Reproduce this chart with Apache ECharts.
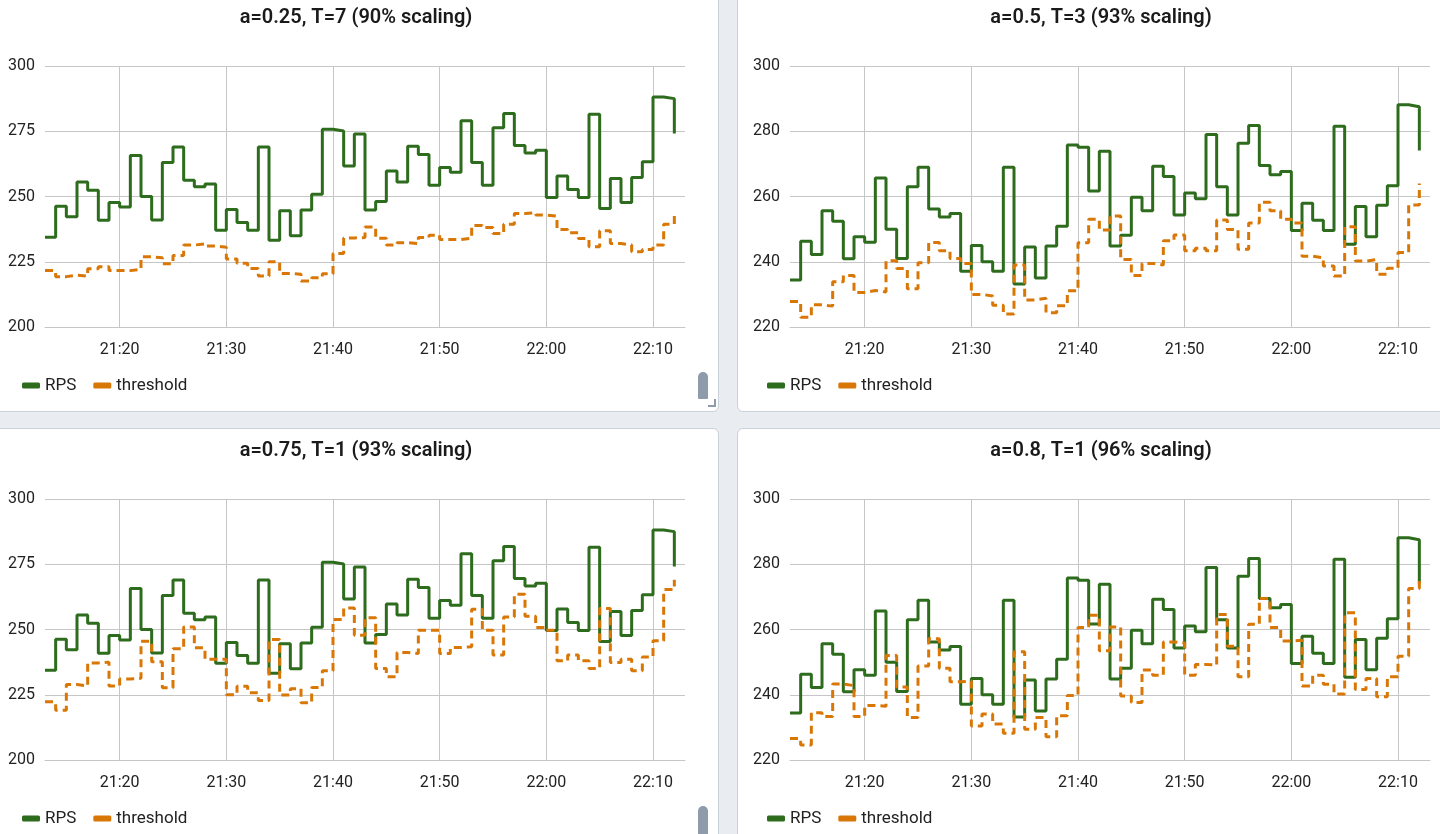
<!DOCTYPE html>
<html>
<head>
<meta charset="utf-8">
<script src="https://cdn.jsdelivr.net/npm/echarts@6/dist/echarts.min.js"></script>
<style>
html,body{margin:0;padding:0;width:1440px;height:834px;overflow:hidden;background:#e9edf2;font-family:Roboto,sans-serif;}
.card{position:absolute;background:#fff;border:1px solid #c9d1db;border-radius:6px;box-sizing:border-box;}
#chart{position:absolute;left:0;top:0;width:1440px;height:834px;}
.thumb{position:absolute;background:#8d9baa;border-radius:5px 5px 1px 1px;width:10px;}
.grip{position:absolute;width:6px;height:6px;border-right:2px solid #8d9baa;border-bottom:2px solid #8d9baa;}
</style>
</head>
<body>
<div class="card" style="left:-10px;top:-10px;width:729px;height:422px"></div>
<div class="card" style="left:737px;top:-10px;width:730px;height:422px"></div>
<div class="card" style="left:-10px;top:428px;width:729px;height:430px"></div>
<div class="card" style="left:737px;top:428px;width:730px;height:430px"></div>
<div class="thumb" style="left:698px;top:372px;height:27px"></div>
<div class="grip" style="left:708px;top:399px"></div>
<div class="thumb" style="left:698px;top:806px;height:30px"></div>
<div id="chart"></div>
<script>
// time categories (one per minute); the last one only closes the axis
const times = [
 '21:13','21:14','21:15','21:16','21:17','21:18','21:19','21:20','21:21','21:22',
 '21:23','21:24','21:25','21:26','21:27','21:28','21:29','21:30','21:31','21:32',
 '21:33','21:34','21:35','21:36','21:37','21:38','21:39','21:40','21:41','21:42',
 '21:43','21:44','21:45','21:46','21:47','21:48','21:49','21:50','21:51','21:52',
 '21:53','21:54','21:55','21:56','21:57','21:58','21:59','22:00','22:01','22:02',
 '22:03','22:04','22:05','22:06','22:07','22:08','22:09','22:10','22:11','22:12',
 '22:13'
];

const rps = [
 234.4,246.3,242.2,255.6,252.4,240.9,247.7,246.0,265.7,250.0,
 241.0,263.0,269.0,256.2,253.7,254.8,237.1,245.0,240.0,237.1,
 269.0,233.2,244.5,235.0,244.8,250.9,275.8,275.1,261.7,273.9,
 244.8,248.1,259.8,255.6,269.3,266.1,254.3,261.1,259.3,279.0,
 263.0,254.3,276.3,281.8,269.5,266.7,267.7,249.6,257.9,252.7,
 249.6,281.5,245.4,256.9,247.7,257.3,263.3,288.1,287.5,274.1
];

const thresholdA025 = [
 221.6,219.3,219.9,219.5,222.3,223.1,221.6,221.6,222.1,226.9,
 226.5,224.2,227.4,231.4,231.8,231.0,230.6,226.1,224.4,222.4,
 219.5,225.0,220.5,220.2,217.6,218.9,220.4,228.2,234.1,234.3,
 238.3,234.0,231.4,232.3,232.0,234.3,235.2,233.5,233.5,234.0,
 238.9,238.1,235.8,239.4,243.5,243.8,242.9,242.5,237.4,236.1,
 233.9,230.7,236.9,232.0,231.4,228.8,229.7,231.4,239.4,243.1
];

const thresholdA05 = [
 227.8,223.0,226.8,226.4,233.9,235.8,230.6,231.2,230.7,240.3,
 237.9,231.7,239.7,245.9,243.4,241.0,239.5,230.0,229.5,226.7,
 224.0,239.0,228.3,228.8,224.4,226.5,231.1,245.8,253.0,249.7,
 254.0,240.7,235.8,239.5,239.0,246.4,248.2,243.4,244.1,243.4,
 252.8,249.9,243.8,251.9,258.2,255.6,253.0,251.9,241.7,241.2,
 238.7,235.6,250.7,240.2,240.7,236.2,238.0,242.8,257.4,264.0
];

const thresholdA075 = [
 222.3,219.1,228.9,228.3,237.2,237.5,228.4,231.0,231.3,245.5,
 237.6,227.7,242.6,251.0,243.0,238.6,238.6,225.0,228.3,225.8,
 222.8,246.2,224.9,227.3,221.9,227.8,234.2,253.8,258.2,247.8,
 254.5,235.1,231.9,241.2,240.8,249.7,249.7,240.8,243.1,243.4,
 257.8,249.7,240.2,254.8,263.5,255.1,250.8,249.7,238.0,240.2,
 238.0,235.1,258.0,237.4,238.6,234.2,239.5,245.7,265.3,269.1
];

const thresholdA08 = [
 226.6,224.6,234.5,233.3,243.3,242.8,233.3,236.7,236.5,252.0,
 242.4,233.0,248.8,257.2,248.1,244.0,244.2,230.4,234.1,231.0,
 228.2,253.2,229.4,233.0,227.1,233.6,239.8,260.6,264.4,253.5,
 260.8,239.6,237.6,247.6,246.0,256.2,255.9,246.0,249.3,249.1,
 264.6,254.9,245.5,261.6,269.5,260.6,256.5,256.7,242.7,246.0,
 243.2,240.2,265.1,241.6,245.0,239.4,245.5,251.8,272.6,275.6
];

const titles = [
 'a=0.25, T=7 (90% scaling)',
 'a=0.5, T=3 (93% scaling)',
 'a=0.75, T=1 (93% scaling)',
 'a=0.8, T=1 (96% scaling)'
];
const thresholds = [thresholdA025, thresholdA05, thresholdA075, thresholdA08];
// y axis [min, max, step]
const yScales = [[200,300,25],[220,300,20],[200,300,25],[220,300,20]];
const seriesNames = ['RPS','threshold'];

const GREEN = '#2d6b1d';
const ORANGE = '#d97706';
const TEXT = '#222222';
const GRIDC = '#c6c6c6';

const layout = [
 {gx:45,  gy:66,  tx:356,  ty:8,   lx:22,  ly:377},
 {gx:790, gy:66,  tx:1101, ty:8,   lx:767, ly:377},
 {gx:45,  gy:499, tx:356,  ty:441, lx:22,  ly:810},
 {gx:790, gy:499, tx:1101, ty:441, lx:767, ly:810}
];

const isTenMark = (idx, val) => typeof val === 'string' && val.slice(-1) === '0';

const option = {
 animation: false,
 backgroundColor: 'transparent',
 textStyle: {fontFamily: 'Roboto, sans-serif'},
 title: layout.map((l, i) => ({
  text: titles[i], left: l.tx, top: l.ty, textAlign: 'center', padding: 0,
  textStyle: {fontSize: 20, fontWeight: 600, color: '#1a1a1a', fontFamily: 'Roboto'}
 })),
 legend: layout.map(l => ({
  data: seriesNames, left: l.lx, top: l.ly, padding: 0,
  icon: 'roundRect', itemWidth: 18, itemHeight: 6, itemGap: 17,
  itemStyle: {borderWidth: 0},
  textStyle: {fontSize: 17, color: TEXT, fontFamily: 'Roboto'}
 })),
 grid: layout.map(l => ({left: l.gx, top: l.gy, width: 640, height: 261})),
 xAxis: layout.map((l, i) => ({
  type: 'category', gridIndex: i, data: times, boundaryGap: false,
  axisLine: {show: true, lineStyle: {color: GRIDC, width: 1}},
  axisTick: {show: false},
  axisLabel: {interval: isTenMark, fontSize: 16, color: TEXT, margin: 15, fontFamily: 'Roboto'},
  splitLine: {show: true, interval: isTenMark, lineStyle: {color: GRIDC, width: 1}}
 })),
 yAxis: layout.map((l, i) => ({
  type: 'value', gridIndex: i,
  min: yScales[i][0], max: yScales[i][1], interval: yScales[i][2],
  axisLine: {show: false}, axisTick: {show: false},
  axisLabel: {fontSize: 16, color: TEXT, margin: 10, fontFamily: 'Roboto'},
  splitLine: {show: true, lineStyle: {color: GRIDC, width: 1}}
 })),
 series: []
};

layout.forEach((l, i) => {
 option.series.push({
  type: 'line', name: seriesNames[0], xAxisIndex: i, yAxisIndex: i,
  data: rps, step: 'end', showSymbol: false, symbol: 'none',
  lineStyle: {color: GREEN, width: 3}, itemStyle: {color: GREEN}, z: 2
 });
 option.series.push({
  type: 'line', name: seriesNames[1], xAxisIndex: i, yAxisIndex: i,
  data: thresholds[i], step: 'end', showSymbol: false, symbol: 'none',
  lineStyle: {color: ORANGE, width: 3, type: [8, 5]}, itemStyle: {color: ORANGE}, z: 3
 });
});

const chart = echarts.init(document.getElementById('chart'), null, {renderer: 'canvas'});
chart.setOption(option);
</script>
</body>
</html>
